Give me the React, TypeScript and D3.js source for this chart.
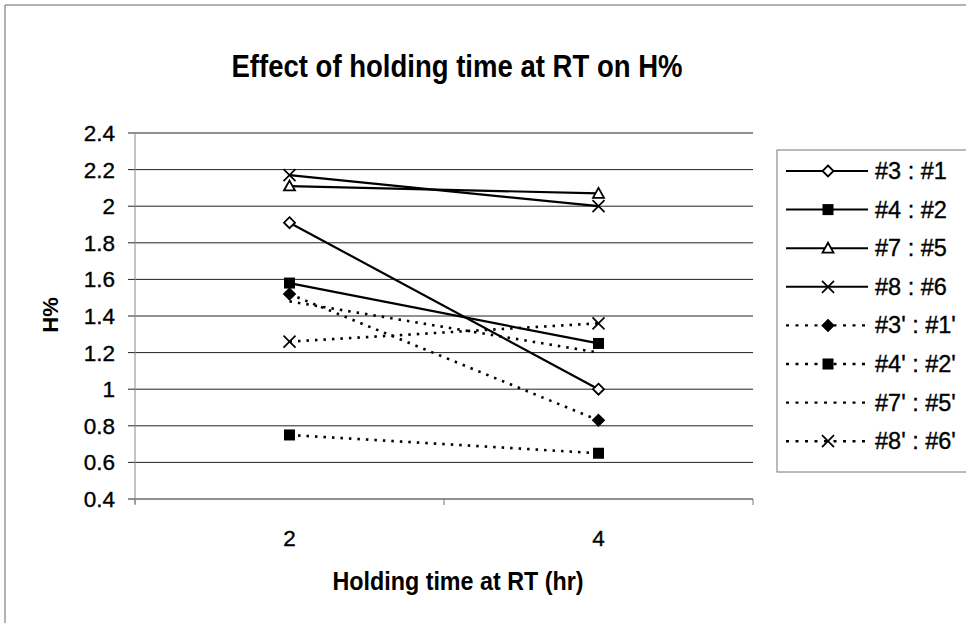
import React from "react";
import * as d3 from "d3";

const categories = ["2", "4"];
const yTicks = [0.4, 0.6, 0.8, 1, 1.2, 1.4, 1.6, 1.8, 2, 2.2, 2.4];
const seriesNames = ["#3 : #1", "#4 : #2", "#7 : #5", "#8 : #6", "#3' : #1'", "#4' : #2'", "#7' : #5'", "#8' : #6'"];
const s3_1 = [1.91, 1.0];
const s4_2 = [1.58, 1.25];
const s7_5 = [2.11, 2.07];
const s8_6 = [2.17, 2.0];
const s3p_1p = [1.52, 0.83];
const s4p_2p = [0.75, 0.65];
const s7p_5p = [1.48, 1.2];
const s8p_6p = [1.26, 1.36];
const markers = ["diamondOpen", "square", "triangleOpen", "x", "diamond", "square", "none", "x"];
const dashed = [false, false, false, false, true, true, true, true];
const seriesValues = [s3_1, s4_2, s7_5, s8_6, s3p_1p, s4p_2p, s7p_5p, s8p_6p];

const W = 966, H = 623;
const PL = 135, PR = 753, PT = 133, PB = 499;

function Marker({ type, x, y }: { type: string; x: number; y: number }) {
  if (type === "none") return null;
  if (type === "diamondOpen" || type === "diamond") {
    const r = 5.5;
    return (
      <path
        d={`M${x},${y - r}L${x + r},${y}L${x},${y + r}L${x - r},${y}Z`}
        fill={type === "diamond" ? "#000" : "#fff"}
        stroke="#000"
        strokeWidth={1.8}
      />
    );
  }
  if (type === "square") {
    const r = 5.5;
    return <rect x={x - r} y={y - r} width={2 * r} height={2 * r} fill="#000" />;
  }
  if (type === "triangleOpen") {
    const r = 5.5;
    return (
      <path
        d={`M${x},${y - r}L${x + r},${y + r * 0.8}L${x - r},${y + r * 0.8}Z`}
        fill="#fff"
        stroke="#000"
        strokeWidth={1.8}
      />
    );
  }
  if (type === "x") {
    const r = 6;
    return (
      <path
        d={`M${x - r},${y - r}L${x + r},${y + r}M${x - r},${y + r}L${x + r},${y - r}`}
        stroke="#000"
        strokeWidth={1.7}
        fill="none"
      />
    );
  }
  return null;
}

export default function App() {
  const x = d3.scaleBand<string>().domain(categories).range([PL, PR]).padding(0);
  const y = d3.scaleLinear().domain([0.4, 2.4]).range([PB, PT]);
  const cx = (c: string) => (x(c) as number) + x.bandwidth() / 2;
  const line = d3
    .line<number>()
    .x((_, i) => cx(categories[i]))
    .y((d) => y(d));

  const legendX = 777, legendY = 150, rowH = 38.6;
  const font = "'Liberation Sans', Arial, sans-serif";
  const txt = { stroke: "#000", strokeWidth: 0.35 };

  return (
    <svg width={W} height={H} style={{ position: "absolute", left: 0, top: 0 }} fontFamily={font}>
      <rect x={0} y={0} width={W} height={H} fill="#fff" />
      {/* outer chart border */}
      <line x1={5} y1={5} x2={W} y2={5} stroke="#666" strokeWidth={1} />
      <line x1={5} y1={5} x2={5} y2={H} stroke="#666" strokeWidth={1} />

      <text x={457} y={77} textAnchor="middle" fontSize={31} fontWeight="bold" textLength={451} lengthAdjust="spacingAndGlyphs">
        Effect of holding time at RT on H%
      </text>

      {/* gridlines & y ticks */}
      {yTicks.map((t) => (
        <g key={t}>
          <line x1={PL - 7} x2={PR} y1={y(t)} y2={y(t)} stroke="#222" strokeWidth={1} />
          <text x={115} y={y(t) + 8} textAnchor="end" fontSize={22.5} {...txt}>
            {d3.format("")(t)}
          </text>
        </g>
      ))}
      {/* y axis */}
      <line x1={PL} x2={PL} y1={PT} y2={PB + 5} stroke="#888" strokeWidth={1} />
      {/* x axis ticks */}
      {[PL, PL + x.bandwidth(), PR].map((tx, i) => (
        <line key={i} x1={tx} x2={tx} y1={PB} y2={PB + 6} stroke="#777" strokeWidth={1} />
      ))}
      {categories.map((c) => (
        <text key={c} x={cx(c)} y={546} textAnchor="middle" fontSize={22.5} {...txt}>
          {c}
        </text>
      ))}
      <text x={458} y={590} textAnchor="middle" fontSize={25} fontWeight="bold" textLength={251} lengthAdjust="spacingAndGlyphs">
        Holding time at RT (hr)
      </text>
      <text
        transform={`translate(58,315) rotate(-90)`}
        textAnchor="middle"
        fontSize={22}
        fontWeight="bold"
      >
        H%
      </text>

      {/* series */}
      {seriesValues.map((vals, si) => (
        <g key={si}>
          <path
            d={line(vals) as string}
            fill="none"
            stroke="#000"
            strokeWidth={dashed[si] ? 2.6 : 2.2}
            strokeDasharray={dashed[si] ? "2.5,6" : undefined}
          />
          {vals.map((v, i) => (
            <Marker key={i} type={markers[si]} x={cx(categories[i])} y={y(v)} />
          ))}
        </g>
      ))}

      {/* legend */}
      <rect x={legendX} y={legendY} width={W} height={322} fill="#fff" stroke="#777" strokeWidth={1} />
      {seriesNames.map((n, i) => {
        const ly = legendY + 21 + i * rowH;
        return (
          <g key={n}>
            <line
              x1={786}
              x2={868}
              y1={ly}
              y2={ly}
              stroke="#000"
              strokeWidth={dashed[i] ? 2.4 : 2}
              strokeDasharray={dashed[i] ? "3,6.5" : undefined}
            />
            <Marker type={markers[i]} x={828} y={ly} />
            <text x={875} y={ly + 8} fontSize={23.5} {...txt}>
              {n}
            </text>
          </g>
        );
      })}
    </svg>
  );
}
